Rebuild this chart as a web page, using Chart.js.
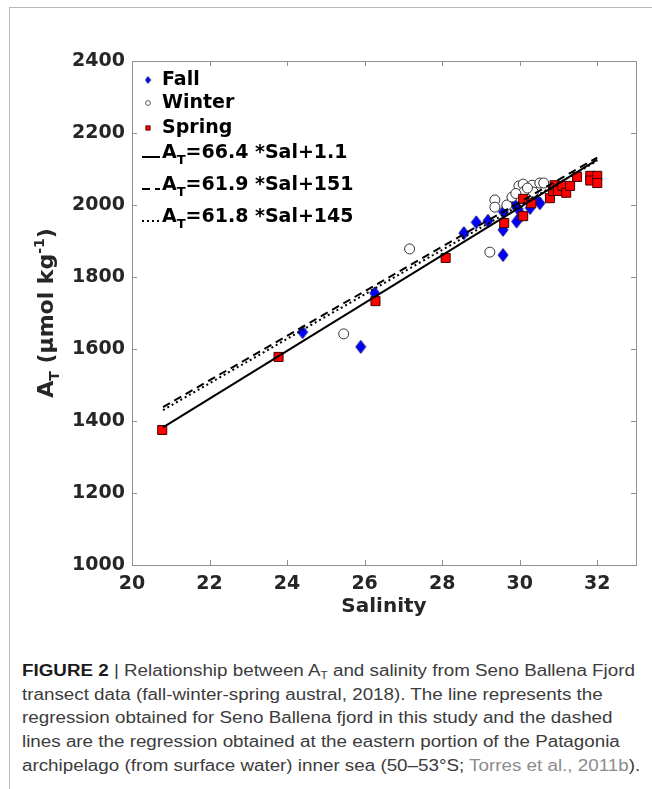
<!DOCTYPE html>
<html>
<head>
<meta charset="utf-8">
<script src="https://cdn.jsdelivr.net/npm/chart.js@4.4.1/dist/chart.umd.min.js"></script>
<style>
  html, body { margin: 0; padding: 0; background: #fff; }
  body { width: 652px; height: 789px; position: relative; overflow: hidden; }
  .edge-top { position: absolute; left: 9px; top: 7px; right: 0; height: 1px; background: #b8b8b8; }
  .edge-left { position: absolute; left: 9px; top: 7px; bottom: 0; width: 1px; background: #b8b8b8; }
  #plot { position: absolute; left: 0; top: 0; width: 652px; height: 640px; }
  .caption {
    position: absolute; left: 22px; top: 659px; white-space: nowrap;
    font-family: "Liberation Sans", Arial, sans-serif; font-size: 16px;
    line-height: 23.7px; color: #3c3c3c;
    transform: scaleX(1.175); transform-origin: left top;
  }
  .caption b { color: #1a1a1a; }
  .caption .ref { color: #8c8c8c; }
  .caption sub { font-size: 10px; vertical-align: -3px; line-height: 0; }
</style>
</head>
<body>
<div class="edge-top"></div>
<div class="edge-left"></div>
<div id="plot"><canvas id="chart"></canvas></div>
<div class="caption">
  <b>FIGURE 2</b> | Relationship between A<sub>T</sub> and salinity from Seno Ballena Fjord<br>
  transect data (fall-winter-spring austral, 2018). The line represents the<br>
  regression obtained for Seno Ballena fjord in this study and the dashed<br>
  lines are the regression obtained at the eastern portion of the Patagonia<br>
  archipelago (from surface water) inner sea (50–53°S; <span class="ref">Torres et al., 2011b</span>).
</div>
<script>
// axis ticks
const xTicks = [20, 22, 24, 26, 28, 30, 32];
const yTicks = [1000, 1200, 1400, 1600, 1800, 2000, 2200, 2400];

// salinity / total alkalinity by season
const fallSal = [24.40, 25.90, 26.26, 28.56, 28.88, 29.18, 29.57, 29.57, 29.58, 29.83, 29.92, 30.05, 30.27, 30.52, 29.95, 30.40];
const fallAT  = [1647, 1606, 1755, 1922, 1952, 1956, 1931, 1861, 1981, 2006, 1954, 1972, 1992, 2005, 1990, 2015];

const winterSal = [25.46, 27.16, 29.23, 29.36, 29.36, 29.67, 29.80, 29.98, 30.09, 30.12, 30.32, 30.35, 30.52, 30.62, 30.20, 29.90];
const winterAT  = [1642, 1878, 1869, 2014, 1994, 2000, 2022, 2053, 2058, 2038, 2055, 2036, 2061, 2061, 2047, 2032];

const springSal = [20.78, 23.78, 26.28, 28.09, 29.60, 30.09, 30.09, 30.30, 30.78, 30.86, 30.90, 30.99, 31.10, 31.20, 31.30, 31.48, 31.82, 31.82, 32.00, 32.00];
const springAT  = [1375, 1578, 1733, 1853, 1950, 1969, 2017, 2005, 2019, 2039, 2055, 2039, 2053, 2034, 2053, 2078, 2081, 2068, 2081, 2061];

// regressions: A_T = slope * Sal + intercept
const fitSlope = [66.4, 61.9, 61.8];
const fitIntercept = [1.1, 151, 145];
const fitSalRange = [20.8, 32];

const toPoints = (xs, ys) => xs.map((x, i) => ({ x: x, y: ys[i] }));

// tall diamond marker, like the MATLAB 'd' symbol
function diamond(w, h, fill, stroke) {
  const c = document.createElement('canvas');
  c.width = w + 2; c.height = h + 2;
  const g = c.getContext('2d');
  const cx = c.width / 2, cy = c.height / 2;
  g.beginPath();
  g.moveTo(cx, cy - h / 2);
  g.lineTo(cx + w / 2, cy);
  g.lineTo(cx, cy + h / 2);
  g.lineTo(cx - w / 2, cy);
  g.closePath();
  g.fillStyle = fill; g.fill();
  g.lineWidth = 0.8; g.strokeStyle = stroke; g.stroke();
  return c;
}
const bigDiamond = diamond(10, 13, '#0000ff', '#000060');
const smallDiamond = diamond(5, 7, '#0000ff', '#000060');

const lineDash = [[], [8, 5], [2, 3]];
const fitSets = fitSlope.map((m, i) => ({
  type: 'line',
  label: 'A_T=' + m + ' *Sal+' + fitIntercept[i],
  data: fitSalRange.map(s => ({ x: s, y: m * s + fitIntercept[i] })),
  borderColor: '#000',
  borderWidth: 2,
  borderDash: lineDash[i],
  pointRadius: 0,
  fill: false,
  order: 0
}));

const seasonSets = [
  { type: 'scatter', label: 'Fall', data: toPoints(fallSal, fallAT),
    pointStyle: bigDiamond, legendStyle: smallDiamond, order: 3 },
  { type: 'scatter', label: 'Winter', data: toPoints(winterSal, winterAT),
    pointStyle: 'circle', pointRadius: 5, backgroundColor: '#fff',
    borderColor: '#333', borderWidth: 1, order: 2 },
  { type: 'scatter', label: 'Spring', data: toPoints(springSal, springAT),
    pointStyle: 'rect', pointRadius: 6.4, backgroundColor: '#ff0000',
    borderColor: '#400000', borderWidth: 1, order: 1 }
];

// draws "A" with a subscript T followed by the rest of the string
function drawAT(ctx, text, x, y, size) {
  const parts = text.split('A_T');
  ctx.font = 'bold ' + size + 'px "DejaVu Sans"';
  let cx = x;
  if (parts.length > 1) {
    ctx.fillText('A', cx, y);
    cx += ctx.measureText('A').width;
    ctx.font = 'bold ' + Math.round(size * 0.7) + 'px "DejaVu Sans"';
    ctx.fillText('T', cx, y + size * 0.4);
    cx += ctx.measureText('T').width;
    ctx.font = 'bold ' + size + 'px "DejaVu Sans"';
  }
  ctx.fillText(parts[parts.length - 1], cx, y);
}

const framePlugin = {
  id: 'frame',
  afterDraw(chart) {
    const { ctx, chartArea: a, scales: { x, y } } = chart;
    ctx.save();
    ctx.strokeStyle = '#8f8f8f';
    ctx.lineWidth = 1;
    ctx.strokeRect(Math.round(a.left) + 0.5, Math.round(a.top) + 0.5,
      Math.round(a.right - a.left), Math.round(a.bottom - a.top));
    const tl = 5;
    ctx.beginPath();
    xTicks.forEach(v => {
      const px = Math.round(x.getPixelForValue(v)) + 0.5;
      ctx.moveTo(px, a.bottom); ctx.lineTo(px, a.bottom - tl);
      ctx.moveTo(px, a.top); ctx.lineTo(px, a.top + tl);
    });
    yTicks.forEach(v => {
      const py = Math.round(y.getPixelForValue(v)) + 0.5;
      ctx.moveTo(a.left, py); ctx.lineTo(a.left + tl, py);
      ctx.moveTo(a.right, py); ctx.lineTo(a.right - tl, py);
    });
    ctx.stroke();

    // y axis title, rotated
    ctx.fillStyle = '#262626';
    ctx.textBaseline = 'alphabetic';
    ctx.translate(53, (a.top + a.bottom) / 2);
    ctx.rotate(-Math.PI / 2);
    const big = 'bold 22px "DejaVu Sans"', small = 'bold 14px "DejaVu Sans"';
    const parts = [['A', big, 0], ['T', small, 6], [' (µmol kg', big, 0], ['-1', small, -9], [')', big, 0]];
    let total = 0;
    parts.forEach(p => { ctx.font = p[1]; total += ctx.measureText(p[0]).width; });
    let cx = -total / 2;
    parts.forEach(p => {
      ctx.font = p[1];
      ctx.fillText(p[0], cx, p[2]);
      cx += ctx.measureText(p[0]).width;
    });
    ctx.restore();

    // legend
    ctx.save();
    ctx.fillStyle = '#000';
    ctx.textBaseline = 'middle';
    const rows = [80, 103, 128, 153, 185, 217];
    const sx = 148, tx = 162;
    chart.data.datasets.forEach((ds, i) => {
      const ry = rows[i];
      if (ds.type === 'scatter') {
        if (ds.legendStyle) {
          ctx.drawImage(ds.legendStyle, sx - ds.legendStyle.width / 2, ry - ds.legendStyle.height / 2);
        } else {
          ctx.fillStyle = ds.backgroundColor; ctx.strokeStyle = ds.borderColor;
          ctx.beginPath();
          if (ds.pointStyle === 'rect') { ctx.rect(sx - 2.2, ry - 2.2, 4.4, 4.4); }
          else { ctx.arc(sx, ry, 2.4, 0, Math.PI * 2); }
          ctx.fill(); ctx.lineWidth = 0.8; ctx.stroke();
          ctx.fillStyle = '#000';
        }
        ctx.font = 'bold 19px "DejaVu Sans"';
        ctx.fillText(ds.label, tx, ry);
      } else {
        ctx.strokeStyle = '#000';
        ctx.lineWidth = 2;
        ctx.setLineDash(ds.borderDash);
        ctx.beginPath();
        ctx.moveTo(142, ry + 4); ctx.lineTo(160, ry + 4);
        ctx.stroke();
        ctx.setLineDash([]);
        drawAT(ctx, ds.label, tx, ry, 19);
      }
    });
    ctx.restore();
  }
};

const tickFont = { family: 'DejaVu Sans', size: 19, weight: 'bold' };

new Chart(document.getElementById('chart'), {
  type: 'scatter',
  data: { datasets: [...seasonSets, ...fitSets] },
  options: {
    responsive: true,
    maintainAspectRatio: false,
    animation: false,
    events: [],
    layout: { padding: { top: 61, right: 16, left: 0, bottom: 0 } },
    plugins: { legend: { display: false }, tooltip: { enabled: false } },
    scales: {
      x: {
        type: 'linear', min: 20, max: 33,
        afterBuildTicks: s => { s.ticks = xTicks.map(v => ({ value: v })); },
        afterFit: s => { s.height = 75; },
        grid: { display: false, drawTicks: false },
        border: { display: false },
        ticks: { color: '#262626', padding: 8, font: tickFont, callback: v => String(v) },
        title: { display: true, text: 'Salinity', color: '#262626', padding: { top: 0, bottom: 21 },
          font: { family: 'DejaVu Sans', size: 20, weight: 'bold' } }
      },
      y: {
        type: 'linear', min: 1000, max: 2400,
        afterBuildTicks: s => { s.ticks = yTicks.map(v => ({ value: v })); },
        afterFit: s => { s.width = 132; },
        grid: { display: false, drawTicks: false },
        border: { display: false },
        ticks: { color: '#262626', padding: 7, font: tickFont, callback: v => String(v) }
      }
    }
  },
  plugins: [framePlugin]
});
</script>
</body>
</html>
